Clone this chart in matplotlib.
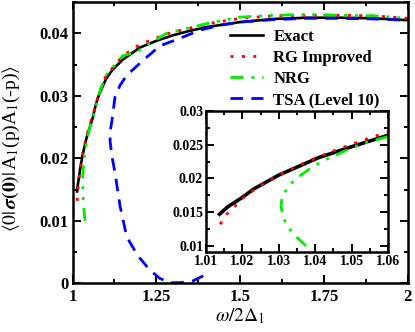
import matplotlib
matplotlib.use("Agg")
import matplotlib.pyplot as plt
from matplotlib.ticker import MultipleLocator, FuncFormatter

plt.rcParams['font.family'] = ['Liberation Serif', 'DejaVu Serif']
plt.rcParams['mathtext.fontset'] = 'stix'
plt.rcParams['lines.scale_dashes'] = False

# exact curve
exact_x = [1.0137, 1.016, 1.02, 1.023, 1.03, 1.041, 1.05, 1.06, 1.07, 1.08, 1.1, 1.12,
           1.15, 1.2, 1.25, 1.3, 1.35, 1.4, 1.5, 1.6, 1.7, 1.8, 1.9, 2.0]
exact_y = [0.0147, 0.0158, 0.0172, 0.0184, 0.0205, 0.0231, 0.0247, 0.0264, 0.0287, 0.0303,
           0.0327, 0.0342, 0.0358, 0.0377, 0.0388, 0.0397, 0.0404, 0.041, 0.0418, 0.0423,
           0.0425, 0.0425, 0.0424, 0.0421]

# RG improved
rg_x = [1.0139, 1.0157, 1.018, 1.0204, 1.0232, 1.026, 1.0288, 1.0319, 1.0347, 1.0378,
        1.041, 1.0441, 1.0471, 1.0502, 1.0534, 1.0565, 1.0596, 1.08, 1.1, 1.15, 1.2, 1.28,
        1.4, 1.5, 1.6, 1.7, 1.8, 1.9, 2.0]
rg_y = [0.0132, 0.0147, 0.0159, 0.0172, 0.0183, 0.0193, 0.0201, 0.021, 0.0217, 0.0225,
        0.0232, 0.0239, 0.0245, 0.0251, 0.0257, 0.0263, 0.0267, 0.0306, 0.0332, 0.0364,
        0.0382, 0.0399, 0.0415, 0.0424, 0.0428, 0.0429, 0.0429, 0.0428, 0.0424]

# NRG
nrg_x = [1.0375, 1.0349, 1.0326, 1.0312, 1.0306, 1.031, 1.0335, 1.0356, 1.0384, 1.0411,
         1.0445, 1.05, 1.0532, 1.06, 1.08, 1.1, 1.15, 1.19, 1.28, 1.42, 1.5, 1.6, 1.7,
         1.8, 1.9, 2.0]
nrg_y = [0.01, 0.0113, 0.0127, 0.0142, 0.0159, 0.0175, 0.0193, 0.0203, 0.0214, 0.0223,
         0.0232, 0.0245, 0.0252, 0.0262, 0.0305, 0.0333, 0.0364, 0.037, 0.0400, 0.0418,
         0.0426, 0.0429, 0.043, 0.0429, 0.0428, 0.0424]

# TSA (level 10)
tsa_x = [1.39, 1.36, 1.32, 1.29, 1.26, 1.231, 1.195, 1.162, 1.142, 1.127, 1.117, 1.112,
         1.113, 1.117, 1.127, 1.142, 1.162, 1.211, 1.261, 1.32, 1.38, 1.44, 1.5, 1.6,
         1.7, 1.8, 1.9, 2.0]
tsa_y = [0.0012, 0.0004, 0.0001, 0.0001, 0.0008, 0.0021, 0.0044, 0.0074, 0.0123, 0.0176,
         0.0205, 0.0228, 0.0245, 0.0258, 0.0299, 0.0317, 0.0333, 0.0357, 0.038, 0.0392,
         0.0405, 0.0413, 0.0418, 0.0422, 0.0424, 0.0424, 0.0423, 0.0421]

styles = dict(
    exact=dict(color='black', lw=1.9, ls='-'),
    rg=dict(color='#ff0000', lw=2.0, ls=(0, (2.2, 6.0))),
    nrg=dict(color='#00ee00', lw=2.0, ls=(0, (9.4, 5.6, 2.2, 5.6, 2.2, 5.6))),
    tsa=dict(color='#0000ff', lw=2.0, ls=(0, (9.0, 6.0))),
)


def style_axes(ax, size, pad_x, pad_y):
    for s in ax.spines.values():
        s.set_linewidth(1.8)
    ax.tick_params(which='both', direction='in', top=True, right=True, width=1.4,
                   labelsize=size)
    ax.tick_params(which='major', length=5.5)
    ax.tick_params(which='minor', length=3)
    ax.tick_params(axis='x', pad=pad_x)
    ax.tick_params(axis='y', pad=pad_y)
    fmt = FuncFormatter(lambda v, p: '0' if abs(v) < 1e-12 else '%g' % v)
    ax.xaxis.set_major_formatter(fmt)
    ax.yaxis.set_major_formatter(fmt)
    for lab in ax.get_xticklabels() + ax.get_yticklabels():
        lab.set_fontweight('bold')


fig = plt.figure(figsize=(4.15, 3.32), dpi=100)
ax = fig.add_axes([0.1747, 0.1467, 0.808, 0.847])

ax.plot(exact_x, exact_y, label='Exact', **styles['exact'])
ax.plot(rg_x, rg_y, label='RG Improved', **styles['rg'])
ax.plot(nrg_x, nrg_y, label='NRG', **styles['nrg'])
ax.plot(tsa_x, tsa_y, label='TSA (Level 10)', **styles['tsa'])

ax.set_xlim(1, 2)
ax.set_ylim(0, 0.045)
ax.xaxis.set_major_locator(MultipleLocator(0.25))
ax.xaxis.set_minor_locator(MultipleLocator(0.125))
ax.yaxis.set_major_locator(MultipleLocator(0.01))
ax.yaxis.set_minor_locator(MultipleLocator(0.005))
style_axes(ax, 12, 4, 3)

ax.set_xlabel(r'$\omega/2\Delta_1$', fontsize=14, labelpad=1)
ax.set_ylabel(r'$\langle 0|\,\boldsymbol{\sigma}\mathbf{(0)}|\,$A$_1$(p)A$_1$(-p)$\rangle$',
              fontsize=14)
ax.yaxis.set_label_coords(-0.15, 0.48)

leg = ax.legend(loc='upper left', bbox_to_anchor=(0.46, 0.915), frameon=True,
                prop=dict(weight='bold', size=12), handlelength=2.0,
                handletextpad=0.6, labelspacing=0.3, borderpad=0.2,
                borderaxespad=0)
leg.get_frame().set_edgecolor('none')
leg.get_frame().set_facecolor('white')
leg.get_frame().set_alpha(1)

# inset
axi = fig.add_axes([0.4964, 0.241, 0.4386, 0.4247])
axi.plot(exact_x, exact_y, color='black', lw=2.6, ls='-')
axi.plot(rg_x, rg_y, **styles['rg'])
axi.plot(nrg_x, nrg_y, **styles['nrg'])
axi.set_xlim(1.01, 1.06)
axi.set_ylim(0.0091, 0.03)
axi.xaxis.set_major_locator(MultipleLocator(0.01))
axi.xaxis.set_minor_locator(MultipleLocator(0.005))
axi.yaxis.set_major_locator(MultipleLocator(0.005))
axi.yaxis.set_minor_locator(MultipleLocator(0.0025))
style_axes(axi, 10, 2.5, 2)

fig.savefig('out.png', dpi=100)
